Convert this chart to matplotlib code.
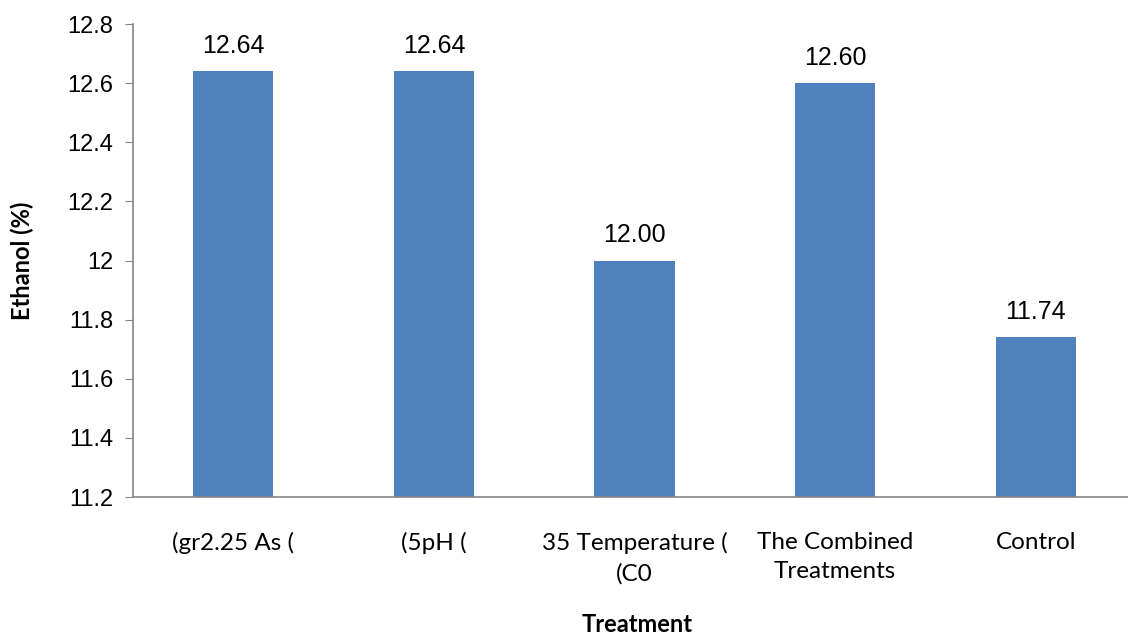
import matplotlib.pyplot as plt

# Data
categories = ["(gr2.25 As (", "(5pH (", "35 Temperature (\n(C0", "The Combined\nTreatments", "Control"]
ethanol = [12.64, 12.64, 12.00, 12.60, 11.74]
value_labels = ["12.64", "12.64", "12.00", "12.60", "11.74"]
yticks = [11.2, 11.4, 11.6, 11.8, 12.0, 12.2, 12.4, 12.6, 12.8]
ytick_labels = ["11.2", "11.4", "11.6", "11.8", "12", "12.2", "12.4", "12.6", "12.8"]

W, H = 1128, 637
fig = plt.figure(figsize=(W / 100, H / 100), dpi=100)
ax = fig.add_axes([133 / W, 1 - 497 / H, 1003 / W, (497 - 24) / H])

x = range(len(categories))
bars = ax.bar(x, ethanol, width=0.4, color="#4F81BD", zorder=2)

for xi, v, lab in zip(x, ethanol, value_labels):
    ax.text(xi, v + 0.045, lab, ha="center", va="bottom", fontsize=18,
            family="Liberation Sans", color="black")

ax.set_ylim(11.2, 12.8)
ax.set_xlim(-0.5, len(categories) - 0.5)
ax.set_yticks(yticks)
ax.set_yticklabels(ytick_labels, family="Liberation Sans", fontsize=17)
ax.set_xticks(list(x))
ax.set_xticklabels(categories, family="Lato", fontsize=17.5, linespacing=1.5)
ax.tick_params(axis="x", length=0, pad=25)
ax.tick_params(axis="y", length=6, color="#868686", direction="out", pad=8)

for s in ["top", "right"]:
    ax.spines[s].set_visible(False)
for s in ["left", "bottom"]:
    ax.spines[s].set_color("#868686")
    ax.spines[s].set_linewidth(1.2)

fig.text(22 / W, 1 - 261 / H, "Ethanol (%)", rotation=90, ha="center", va="center",
         fontsize=17, fontweight="bold", family="Lato")
fig.text(637 / W, 1 - 624 / H, "Treatment", ha="center", va="center",
         fontsize=17, fontweight="bold", family="Lato")

fig.savefig("out.png", dpi=100)
